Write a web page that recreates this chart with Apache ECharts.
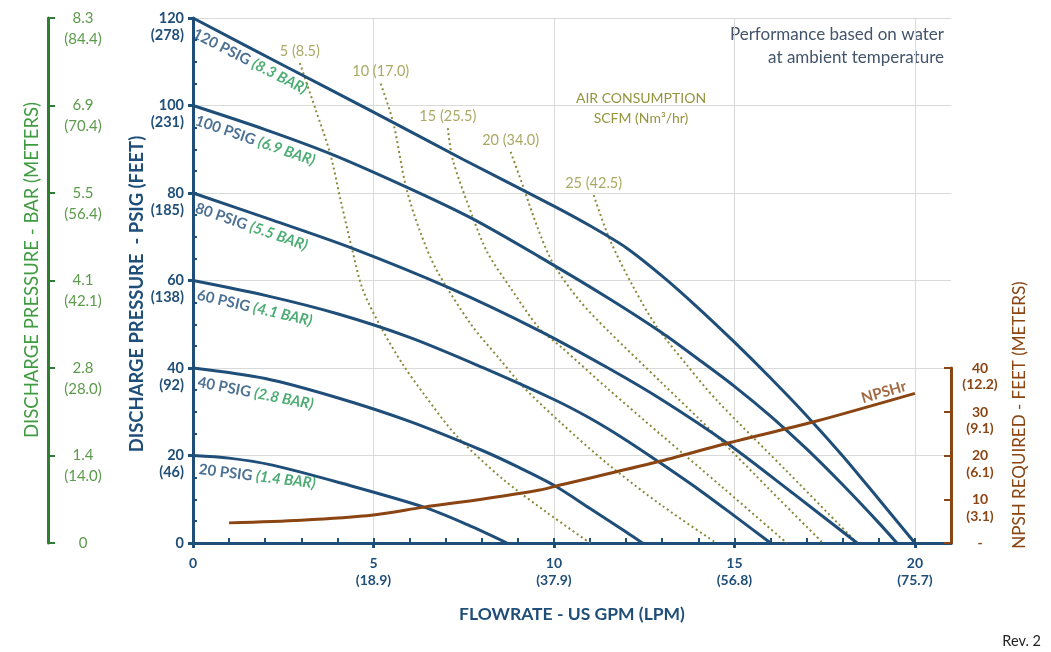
<!DOCTYPE html>
<html><head><meta charset="utf-8">
<script src="https://cdn.jsdelivr.net/npm/echarts@6/dist/echarts.min.js"></script>
<style>html,body{margin:0;padding:0;background:#fff}#c{width:1051px;height:652px}</style>
</head><body><div id="c"></div>
<script>
// ---- tick labels ----
const xTicks = [0, 5, 10, 15, 20];
const xTickLabels = ['0', '5\n(18.9)', '10\n(37.9)', '15\n(56.8)', '20\n(75.7)'];
const psiTicks = [0, 20, 40, 60, 80, 100, 120];
const psiLabels = ['0', '20\n(46)', '40\n(92)', '60\n(138)', '80\n(185)', '100\n(231)', '120\n(278)'];
const barLabels = ['0', '1.4\n(14.0)', '2.8\n(28.0)', '4.1\n(42.1)', '5.5\n(56.4)', '6.9\n(70.4)', '8.3\n(84.4)'];
const npshTicks = [0, 10, 20, 30, 40];
const npshLabels = ['-', '10\n(3.1)', '20\n(6.1)', '30\n(9.1)', '40\n(12.2)'];

// ---- discharge pressure curves [GPM, PSIG] ----
const curve120 = [[0,120],[2.5,109.2],[5,98.5],[7.5,87.6],[10,77],[11,72.5],[12,67.5],[13,61],[14,53.7],[15,45.9],[16,37.7],[17,29.1],[18,19.9],[19,10],[20,0]];
const curve100 = [[0,100],[2,94.5],[3.8,89],[5.9,81.4],[7.7,74.3],[9.6,65.4],[11.5,56],[13,48],[14,42],[15,35.8],[16,29],[17,21.5],[18,13.3],[19,4.6],[19.5,0]];
const curve80  = [[0,80],[2.2,73.8],[4.4,67.4],[7.1,58.3],[9.6,48.5],[11.5,40],[13,32.7],[14.8,22.8],[16.6,11.5],[18.4,0]];
const curve60  = [[0,60],[2,56.6],[4,52.4],[6,47],[8,40.2],[10,32.8],[11,28.5],[12,23.5],[13,18],[14,12.3],[15,6.2],[16,0]];
const curve40  = [[0,40],[2,37.6],[4,33.2],[6,27.8],[8,21.2],[9,17.4],[10,13.2],[11,7.9],[12,2.5],[12.45,0]];
const curve20  = [[0,20],[1,19.4],[2.2,17.8],[4.1,13.7],[6.4,8.2],[7.6,4.2],[8.7,0]];
const curveNames = ['120 PSIG', '100 PSIG', '80 PSIG', '60 PSIG', '40 PSIG', '20 PSIG'];
const curveBars = ['(8.3 BAR)', '(6.9 BAR)', '(5.5 BAR)', '(4.1 BAR)', '(2.8 BAR)', '(1.4 BAR)'];

// ---- air consumption curves [GPM, PSIG] ----
const air5  = [[2.96,109.7],[3.4,99],[3.8,89],[4.1,78],[4.4,67.4],[4.7,58],[5.2,49.4],[5.8,41],[6.4,34],[7.3,24.5],[8.6,14.5],[9.8,7],[11,0]];
const air10 = [[5.2,105],[5.55,96],[5.9,81.4],[6.3,71],[6.75,62.4],[7.7,50],[8.5,42],[9.15,35.7],[10.2,27.4],[11.5,18],[13,8.5],[14.5,0]];
const air15 = [[7.06,94.8],[7.2,87.5],[7.75,74.5],[8.15,66.5],[8.78,58.5],[9.6,49],[10.2,44.8],[11.5,35.2],[13,24.5],[14.7,12.5],[16.45,0]];
const air20 = [[8.8,89.4],[9.15,81.4],[9.55,72],[9.97,64],[10.7,55.5],[11.5,48.5],[13,36.5],[14.5,24.5],[16,12],[17.45,0]];
const air25 = [[11.1,79.5],[11.55,69.3],[12.2,58.5],[12.85,49.4],[13.7,40.5],[14.5,32.7],[16.5,16],[18.4,0]];
const airNames = ['5 (8.5)', '10 (17.0)', '15 (25.5)', '20 (34.0)', '25 (42.5)'];

// ---- NPSH required [GPM, FEET] ----
const npsh = [[1.0,4.6],[3,5.2],[5,6.4],[6.4,8.2],[8,10],[9.6,12.1],[10.2,13.3],[12.85,18.5],[14.8,22.8],[17.2,27.7],[20,34.2]];

const NAVY = '#1f4e79', GREEN_AX = '#2e7d32', GREEN_LB = '#5c9a4c', GREEN_TX = '#1e9850',
      BROWN = '#8b4513', OLIVE = '#94943e', DOT = '#8a8a3a', GRID = '#d9d9d9';
const FONT = 'Lato, "Open Sans", sans-serif';

function lbl(ticks, labels, first) {
  return function (v) {
    const i = ticks.findIndex(t => Math.abs(t - v) < 1e-6);
    if (i < 0) return '';
    const s = labels[i];
    return (first && s.indexOf('\n') >= 0) ? ' \n' + s : s;
  };
}
const minorX = [];
for (let i = 1; i <= 20; i++) minorX.push(i);
const minorY = [];
for (let i = 5; i < 120; i += 5) minorY.push(i);

const gridBox = { left: 193, right: 100, top: 18, bottom: 109, outerBoundsMode: 'none', containLabel: false };

const curves = [curve120, curve100, curve80, curve60, curve40, curve20];
const airs = [air5, air10, air15, air20, air25];
const curveAngles = [27, 19, 19, 13, 11, 7];

const series = [];
const lineBase = { type: 'line', smooth: 0.3, showSymbol: false, symbol: 'none', silent: true };
airs.forEach((a, i) => series.push(Object.assign({}, lineBase, {
  name: airNames[i], data: a, lineStyle: { color: DOT, width: 2, type: [2, 3] }, z: 2
})));
curves.forEach((c, i) => series.push(Object.assign({}, lineBase, {
  name: curveNames[i], data: c, lineStyle: { color: NAVY, width: 3 }, z: 3
})));
series.push(Object.assign({}, lineBase, {
  name: 'NPSHr', data: npsh, lineStyle: { color: BROWN, width: 3 }, z: 4
}));
// annotation labels
const ann = [];
curves.forEach((c, i) => ann.push({
  value: c[0],
  label: {
    show: true, position: 'right', distance: 0, align: 'left', verticalAlign: 'middle',
    rotate: -curveAngles[i], offset: [7, 13], fontWeight: 'bold', fontSize: 15,
    formatter: '{a|' + curveNames[i] + '} {b|' + curveBars[i] + '}',
    rich: {
      a: { color: NAVY, fontWeight: 'bold', fontSize: 15, fontFamily: FONT },
      b: { color: GREEN_TX, fontWeight: 'bold', fontStyle: 'italic', fontSize: 15, fontFamily: FONT }
    }
  }
}));
airs.forEach((a, i) => ann.push({
  value: a[0],
  label: { show: true, position: 'top', distance: 4, formatter: airNames[i], color: OLIVE, fontSize: 14.5, fontFamily: FONT }
}));
ann.push({
  value: npsh[npsh.length - 1],
  label: { show: true, position: 'left', distance: 2, align: 'right', verticalAlign: 'middle', rotate: 16, offset: [-4, -9],
    formatter: 'NPSHr', color: BROWN, fontWeight: 'bold', fontSize: 15, fontFamily: FONT }
});
series.push({ type: 'scatter', data: ann, symbolSize: 1, itemStyle: { color: 'rgba(0,0,0,0)' }, z: 6, silent: true });

const option = {
  animation: false,
  backgroundColor: '#fff',
  textStyle: { fontFamily: FONT },
  grid: [
    Object.assign({}, gridBox),
    Object.assign({}, gridBox),
    { left: 193, right: 100, top: 368, bottom: 109, outerBoundsMode: 'none', containLabel: false },
    Object.assign({}, gridBox)
  ],
  xAxis: [
    { gridIndex: 0, type: 'value', min: 0, max: 21, interval: 5, position: 'bottom',
      name: 'FLOWRATE - US GPM (LPM)', nameLocation: 'middle', nameGap: 62,
      nameTextStyle: { color: NAVY, fontWeight: 'bold', fontSize: 17.5, fontFamily: FONT },
      axisLine: { show: true, onZero: false, lineStyle: { color: NAVY, width: 3 } },
      axisTick: { show: true, customValues: xTicks, length: 5, lineStyle: { color: NAVY, width: 3 } },
      axisLabel: { show: true, customValues: xTicks, formatter: lbl(xTicks, xTickLabels, false), color: NAVY,
        fontWeight: 'bold', fontSize: 14, lineHeight: 17, margin: 12, fontFamily: FONT },
      splitLine: { show: true, lineStyle: { color: GRID, width: 1 } } },
    { gridIndex: 1, type: 'value', min: 0, max: 21, show: false },
    { gridIndex: 2, type: 'value', min: 0, max: 21, show: false },
    { gridIndex: 3, type: 'value', min: 0, max: 21, position: 'bottom',
      axisLine: { show: false }, axisLabel: { show: false }, splitLine: { show: false },
      axisTick: { show: true, customValues: minorX, inside: true, length: 5, lineStyle: { color: NAVY, width: 2 } } }
  ],
  yAxis: [
    { gridIndex: 0, type: 'value', min: 0, max: 120, interval: 20, position: 'left',
      axisLine: { show: true, onZero: false, lineStyle: { color: NAVY, width: 3 } },
      axisTick: { show: true, length: 5, lineStyle: { color: NAVY, width: 3 } },
      axisLabel: { formatter: lbl(psiTicks, psiLabels, true), color: NAVY, fontWeight: 'bold', fontSize: 14.5,
        lineHeight: 17, margin: 9, fontFamily: FONT, showMaxLabel: true, showMinLabel: true },
      splitLine: { show: true, lineStyle: { color: GRID, width: 1 } } },
    { gridIndex: 1, type: 'value', min: 0, max: 120, interval: 20, position: 'left', offset: 145,
      axisLine: { show: true, onZero: false, lineStyle: { color: GREEN_AX, width: 3 } },
      axisTick: { show: true, inside: true, length: 7, lineStyle: { color: GREEN_AX, width: 2 } },
      axisLabel: { inside: true, align: 'center', margin: 35, formatter: lbl(psiTicks, barLabels, true),
        color: GREEN_LB, fontSize: 15, lineHeight: 21, fontFamily: FONT, showMaxLabel: true, showMinLabel: true },
      splitLine: { show: false } },
    { gridIndex: 2, type: 'value', min: 0, max: 40, interval: 10, position: 'right',
      axisLine: { show: true, onZero: false, lineStyle: { color: BROWN, width: 3 } },
      axisTick: { show: true, inside: true, length: 7, lineStyle: { color: BROWN, width: 2 } },
      axisLabel: { align: 'center', verticalAlign: 'top', padding: [-8, 0, 0, 0], margin: 29,
        formatter: lbl(npshTicks, npshLabels, false), color: BROWN,
        fontWeight: 'bold', fontSize: 14, lineHeight: 16.5, fontFamily: FONT, showMaxLabel: true, showMinLabel: true },
      splitLine: { show: false } },
    { gridIndex: 3, type: 'value', min: 0, max: 120, position: 'left',
      axisLine: { show: false }, axisLabel: { show: false }, splitLine: { show: false },
      axisTick: { show: true, customValues: minorY, inside: true, length: 4, lineStyle: { color: NAVY, width: 2 } } }
  ],
  graphic: [
    { type: 'text', x: 944, y: 35, style: { text: 'Performance based on water', textAlign: 'right', textVerticalAlign: 'middle', fill: '#44546a', font: '17px ' + FONT } },
    { type: 'text', x: 944, y: 58, style: { text: 'at ambient temperature', textAlign: 'right', textVerticalAlign: 'middle', fill: '#44546a', font: '17px ' + FONT } },
    { type: 'text', x: 641, y: 98, style: { text: 'AIR CONSUMPTION', textAlign: 'center', textVerticalAlign: 'middle', fill: OLIVE, font: '14px ' + FONT } },
    { type: 'text', x: 641, y: 118, style: { text: 'SCFM (Nm³/hr)', textAlign: 'center', textVerticalAlign: 'middle', fill: OLIVE, font: '14px ' + FONT } },
    { type: 'text', x: 1041, y: 641, style: { text: 'Rev. 2', textAlign: 'right', textVerticalAlign: 'middle', fill: '#222', font: '14.5px ' + FONT } },
    { type: 'text', x: 32, y: 270, rotation: Math.PI / 2, style: { text: 'DISCHARGE PRESSURE - BAR (METERS)', textAlign: 'center', textVerticalAlign: 'middle', fill: '#3f9b3f', font: '18.5px ' + FONT } },
    { type: 'text', x: 137, y: 294, rotation: Math.PI / 2, style: { text: 'DISCHARGE PRESSURE  - PSIG (FEET)', textAlign: 'center', textVerticalAlign: 'middle', fill: NAVY, font: 'bold 18.4px ' + FONT } },
    { type: 'text', x: 1020, y: 415, rotation: Math.PI / 2, style: { text: 'NPSH REQUIRED - FEET (METERS)', textAlign: 'center', textVerticalAlign: 'middle', fill: BROWN, font: '17px ' + FONT } }
  ],
  series: series
};
const chart = echarts.init(document.getElementById('c'), null, { renderer: 'canvas' });
chart.setOption(option);
</script>
</body></html>
